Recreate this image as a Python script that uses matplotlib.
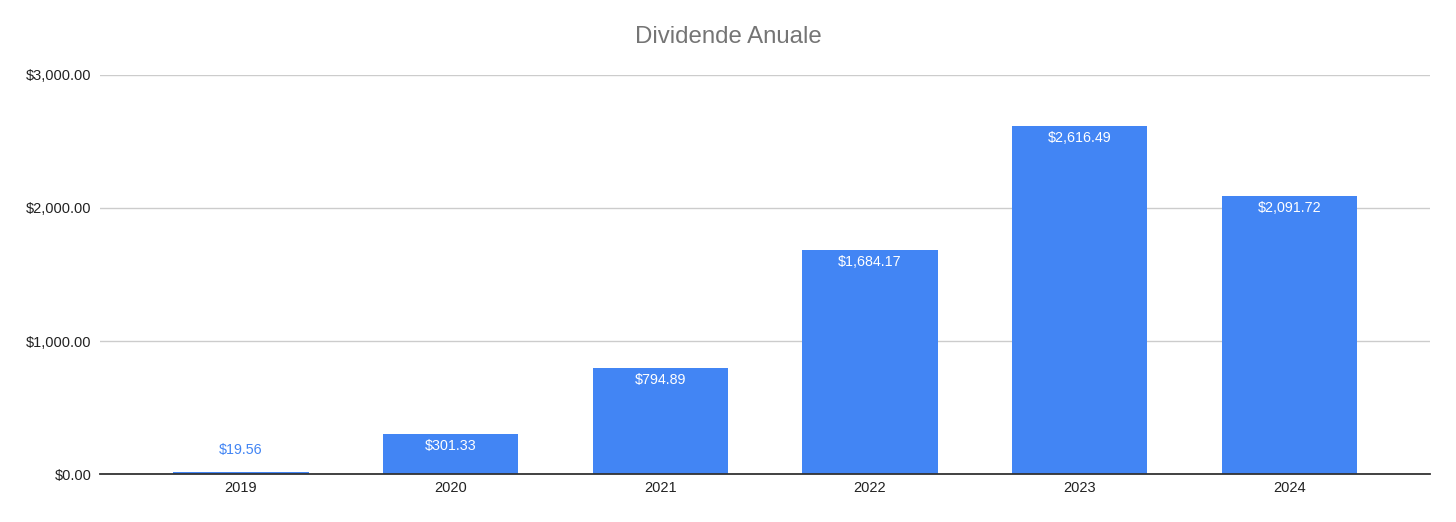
import matplotlib
matplotlib.use("Agg")
import matplotlib.pyplot as plt
from matplotlib.ticker import FuncFormatter

# date
years = ['2019', '2020', '2021', '2022', '2023', '2024']
dividende = [19.56, 301.33, 794.89, 1684.17, 2616.49, 2091.72]
y_ticks = [0, 1000, 2000, 3000]

bar_color = '#4285F4'

fig = plt.figure(figsize=(14.56, 5.22), dpi=100)
ax = fig.add_axes([100 / 1456, 47.7 / 522, 1330 / 1456, 399.6 / 522])

x = range(len(years))
bars = ax.bar(x, dividende, width=0.645, color=bar_color, zorder=3)

ax.set_xlim(-0.672, 5.671)
ax.set_ylim(0, 3000)
ax.set_yticks(y_ticks)
ax.yaxis.set_major_formatter(FuncFormatter(lambda v, p: '${:,.2f}'.format(v)))
ax.set_xticks(list(x))
ax.set_xticklabels(years)

ax.grid(axis='y', color='#cccccc', linewidth=1, zorder=0)
for s in ['top', 'right', 'left']:
    ax.spines[s].set_visible(False)
ax.spines['bottom'].set_color('#333333')
ax.spines['bottom'].set_linewidth(1.3)
ax.spines['bottom'].set_zorder(4)
ax.tick_params(axis='both', length=0, labelsize=10.5, labelcolor='#222222',
               labelfontfamily='Liberation Sans')
ax.tick_params(axis='y', pad=6)
ax.tick_params(axis='x', pad=5)

# etichete valori
for i, v in enumerate(dividende):
    lbl = '${:,.2f}'.format(v)
    if v > 200:
        ax.annotate(lbl, (i, v), xytext=(0, -12), textcoords='offset pixels',
                    ha='center', va='center', color='white', fontsize=10.3,
                    family='Liberation Sans', zorder=5)
    else:
        ax.annotate(lbl, (i, v), xytext=(0, 22), textcoords='offset pixels',
                    ha='center', va='center', color=bar_color, fontsize=10.3,
                    family='Liberation Sans', zorder=5)

fig.text(728 / 1456, 1 - 37 / 522, 'Dividende Anuale', ha='center', va='center',
         fontsize=17.3, color='#757575', family='Liberation Sans')

fig.savefig('out.png', dpi=100)
